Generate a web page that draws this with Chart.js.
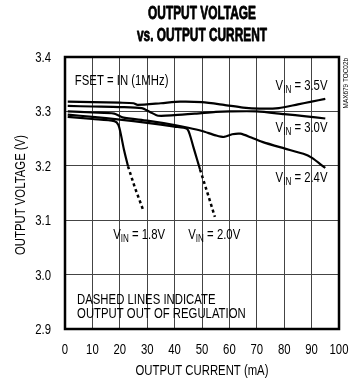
<!DOCTYPE html>
<html><head><meta charset="utf-8">
<script src="https://cdn.jsdelivr.net/npm/chart.js@4.4.1/dist/chart.umd.min.js"></script>
<style>html,body{margin:0;padding:0;background:#fff;}canvas{display:block}</style>
</head><body>
<canvas id="c" width="350" height="384"></canvas>
<script>
// ---- data ----
const xTicks = [0,10,20,30,40,50,60,70,80,90,100];
const yTicks = [2.9,3.0,3.1,3.2,3.3,3.4];

const vin35I = [1,10,20,25,26.5,35,42,50,58,65,71,78,85,90,95];
const vin35V = [3.318,3.317,3.316,3.315,3.312,3.315,3.318,3.317,3.312,3.307,3.305,3.306,3.313,3.318,3.323];

const vin30I = [1,10,20,28,31,34,40,48,55,60,70,80,88,95];
const vin30V = [3.310,3.309,3.308,3.306,3.299,3.292,3.293,3.296,3.299,3.300,3.300,3.295,3.291,3.287];

const vin24I = [1,10,18,21,30,40,45,50,55,58,61,64,68,72,80,87,90,95];
const vin24V = [3.300,3.298,3.296,3.289,3.283,3.275,3.270,3.264,3.256,3.253,3.258,3.259,3.252,3.244,3.232,3.222,3.215,3.196];

const vin18I = [1,10,18,19.5,20.5,21.5,23];
const vin18V = [3.290,3.286,3.282,3.275,3.255,3.230,3.199];
const vin18DashI = [23,25.5,28.5];
const vin18DashV = [3.199,3.160,3.119];

const vin20I = [1,10,20,30,40,44.5,45.5,47,49.3];
const vin20V = [3.294,3.290,3.285,3.279,3.272,3.268,3.258,3.232,3.193];
const vin20DashI = [49.3,52,54.7];
const vin20DashV = [3.193,3.150,3.106];

const FAM = "'Liberation Sans',Arial,sans-serif";
const SX = 0.81; // horizontal condensing to imitate a narrow face

function pts(xs, ys){ return xs.map((x,i)=>({x:x, y:ys[i]})); }
function solid(xs, ys){ return {data:pts(xs,ys), borderColor:'#000', borderWidth:2.2, pointRadius:0, tension:0.25, fill:false}; }
function dashed(xs, ys){ return {data:pts(xs,ys), borderColor:'#000', borderWidth:2.5, borderDash:[3,3], pointRadius:0, tension:0, fill:false}; }

function nText(ctx, text, x, y, font, align, sx, stroke){
  ctx.save();
  ctx.font = font;
  const w = ctx.measureText(text).width * sx;
  const x0 = align === 'center' ? x - w/2 : (align === 'right' ? x - w : x);
  ctx.translate(x0, y); ctx.scale(sx, 1);
  ctx.textAlign = 'left'; ctx.textBaseline = 'alphabetic';
  ctx.fillText(text, 0, 0);
  if (stroke) { ctx.lineWidth = stroke; ctx.strokeStyle = ctx.fillStyle; ctx.lineJoin = 'round'; ctx.strokeText(text, 0, 0); }
  ctx.restore();
  return w;
}
function nWidth(ctx, text, font, sx){ ctx.save(); ctx.font = font; const w = ctx.measureText(text).width * sx; ctx.restore(); return w; }

const textPlugin = {
  id:'texts',
  beforeDatasetsDraw(chart){
    const a = chart.chartArea, ctx = chart.ctx;
    ctx.save();
    ctx.strokeStyle = '#000'; ctx.lineWidth = 2.5;
    ctx.strokeRect(a.left, a.top, a.right - a.left, a.bottom - a.top);
    ctx.restore();
  },
  afterDraw(chart){
    const ctx = chart.ctx, xs = chart.scales.x, ys = chart.scales.y, a = chart.chartArea;
    ctx.save();
    ctx.fillStyle = '#000';
    const cx = (a.left + a.right) / 2;
    const f14 = "14px " + FAM;
    // title
    nText(ctx, 'OUTPUT VOLTAGE', cx, 19, "bold 18px " + FAM, 'center', 0.66, 0.8);
    nText(ctx, 'vs. OUTPUT CURRENT', cx, 41, "bold 18px " + FAM, 'center', 0.66, 0.8);
    // tick labels
    yTicks.forEach(v => nText(ctx, v.toFixed(1), a.left - 14, ys.getPixelForValue(v) + 5, f14, 'right', SX));
    xTicks.forEach(v => nText(ctx, String(v), xs.getPixelForValue(v), 354, f14, 'center', SX));
    // axis titles
    nText(ctx, 'OUTPUT CURRENT (mA)', cx, 375, f14, 'center', SX);
    ctx.save();
    ctx.translate(25, (a.top + a.bottom) / 2 + 2);
    ctx.rotate(-Math.PI/2);
    nText(ctx, 'OUTPUT VOLTAGE (V)', 0, 0, f14, 'center', SX);
    ctx.restore();
    // annotations
    nText(ctx, 'FSET = IN (1MHz)', xs.getPixelForValue(3.6), ys.getPixelForValue(3.348), f14, 'left', SX);
    nText(ctx, 'DASHED LINES INDICATE', xs.getPixelForValue(4.4), ys.getPixelForValue(2.946), f14, 'left', SX);
    nText(ctx, 'OUTPUT OUT OF REGULATION', xs.getPixelForValue(4.4), ys.getPixelForValue(2.920), f14, 'left', SX);
    function vin(label, xVal, yVal, alignRight){
      const fb = f14, fs = "10px " + FAM;
      const w1 = nWidth(ctx, 'V', fb, SX), w2 = nWidth(ctx, 'IN', fs, SX), w3 = nWidth(ctx, ' = ' + label, fb, SX);
      let x = xs.getPixelForValue(xVal); const y = ys.getPixelForValue(yVal);
      if (alignRight) x -= (w1 + w2 + w3);
      nText(ctx, 'V', x, y, fb, 'left', SX);
      nText(ctx, 'IN', x + w1, y + 3, fs, 'left', SX);
      nText(ctx, ' = ' + label, x + w1 + w2, y, fb, 'left', SX);
    }
    vin('3.5V', 95.8, 3.339, true);
    vin('3.0V', 95.8, 3.262, true);
    vin('2.4V', 95.8, 3.171, true);
    vin('1.8V', 17.6, 3.066, false);
    vin('2.0V', 45.0, 3.066, false);
    // side id
    ctx.save();
    ctx.translate(348, a.top + 1);
    ctx.rotate(-Math.PI/2);
    nText(ctx, 'MAX679 TOC02b', 0, 0, "8px " + FAM, 'right', 0.8);
    ctx.restore();
    ctx.restore();
  }
};

new Chart(document.getElementById('c'), {
  type:'line',
  data:{ datasets:[
    solid(vin35I, vin35V), solid(vin30I, vin30V), solid(vin24I, vin24V),
    solid(vin18I, vin18V), dashed(vin18DashI, vin18DashV),
    solid(vin20I, vin20V), dashed(vin20DashI, vin20DashV)
  ]},
  options:{
    responsive:false, animation:false, devicePixelRatio:1,
    layout:{ padding:{ top:57, right:11, bottom:0, left:0 } },
    plugins:{ legend:{display:false}, tooltip:{enabled:false}, title:{display:false} },
    scales:{
      x:{ type:'linear', min:0, max:100,
        afterBuildTicks(s){ s.ticks = xTicks.map(v=>({value:v})); },
        afterFit(s){ s.height = 55; },
        grid:{ color:'#444', lineWidth:1, drawTicks:false },
        border:{ display:false },
        ticks:{ display:false },
        title:{ display:false }
      },
      y:{ type:'linear', min:2.9, max:3.4,
        afterBuildTicks(s){ s.ticks = yTicks.map(v=>({value:v})); },
        afterFit(s){ s.width = 65; },
        grid:{ color:'#444', lineWidth:1, drawTicks:false },
        border:{ display:false },
        ticks:{ display:false },
        title:{ display:false }
      }
    }
  },
  plugins:[textPlugin]
});
</script>
</body></html>
